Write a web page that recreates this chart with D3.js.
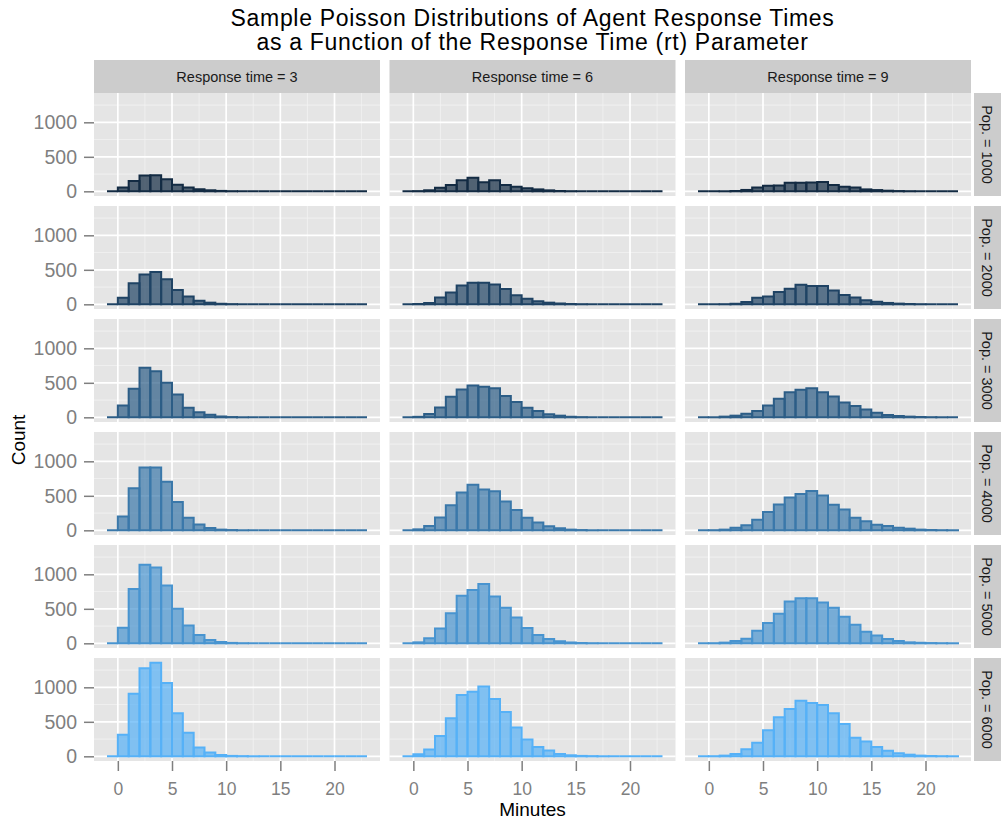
<!DOCTYPE html>
<html>
<head>
<meta charset="utf-8">
<script src="https://cdn.jsdelivr.net/npm/d3@7"></script>
<style>
  body { margin: 0; background: #fff; }
  svg { display: block; font-family: "Liberation Sans", Arial, Helvetica, sans-serif; }
</style>
</head>
<body>
<div id="display"></div>
<script>
// bins are 1 minute wide, listed by their left edge
const binStarts = [-1, 0, 1, 2, 3, 4, 5, 6, 7, 8, 9, 10, 11, 12, 13, 14, 15, 16, 17, 18, 19, 20, 21, 22];
const responseTimes = [3, 6, 9];
const populations = [1000, 2000, 3000, 4000, 5000, 6000];
const xTicks = [0, 5, 10, 15, 20];
const yTicks = [0, 500, 1000];

// counts per bin, one row per population (1000..6000)
const countsRt3 = [
  [0, 55, 150, 228, 232, 175, 95, 55, 30, 15, 6, 2, 0, 0, 0, 0, 0, 0, 0, 0, 0, 0, 0, 0],
  [0, 96, 305, 432, 470, 365, 206, 115, 53, 24, 8, 3, 0, 0, 0, 0, 0, 0, 0, 0, 0, 0, 0, 0],
  [0, 173, 413, 720, 668, 500, 332, 140, 72, 38, 12, 4, 1, 0, 0, 0, 0, 0, 0, 0, 0, 0, 0, 0],
  [0, 200, 610, 910, 910, 705, 410, 181, 86, 33, 10, 4, 1, 0, 0, 0, 0, 0, 0, 0, 0, 0, 0, 0],
  [0, 224, 786, 1138, 1100, 838, 500, 257, 119, 48, 19, 6, 2, 0, 0, 0, 0, 0, 0, 0, 0, 0, 0, 0],
  [0, 314, 905, 1276, 1357, 1062, 624, 343, 129, 57, 19, 6, 3, 1, 0, 0, 0, 0, 0, 0, 0, 0, 0, 0]
];
const countsRt6 = [
  [0, 3, 15, 50, 90, 160, 195, 130, 160, 90, 67, 43, 28, 14, 5, 2, 0, 0, 0, 0, 0, 0, 0, 0],
  [0, 5, 19, 100, 173, 274, 312, 312, 288, 221, 130, 82, 43, 24, 12, 5, 2, 0, 0, 0, 0, 0, 0, 0],
  [0, 7, 48, 144, 298, 404, 462, 442, 423, 308, 221, 139, 91, 43, 24, 8, 3, 0, 0, 0, 0, 0, 0, 0],
  [0, 14, 62, 187, 365, 547, 662, 590, 566, 418, 293, 182, 115, 58, 29, 10, 4, 1, 0, 0, 0, 0, 0, 0],
  [0, 14, 72, 216, 437, 691, 773, 859, 677, 514, 374, 221, 120, 62, 29, 12, 5, 2, 0, 0, 0, 0, 0, 0],
  [0, 29, 100, 293, 552, 888, 936, 1013, 830, 643, 418, 245, 134, 86, 34, 15, 6, 3, 1, 0, 0, 0, 0, 0]
];
const countsRt9 = [
  [0, 0, 1, 5, 20, 55, 82, 83, 125, 125, 126, 135, 92, 66, 55, 28, 18, 9, 4, 2, 0, 0, 0, 0],
  [0, 0, 2, 8, 35, 95, 115, 180, 225, 282, 265, 265, 200, 135, 100, 60, 38, 20, 10, 5, 2, 0, 0, 0],
  [0, 1, 10, 24, 53, 91, 173, 269, 365, 398, 422, 365, 302, 216, 163, 115, 67, 34, 19, 10, 5, 2, 1, 0],
  [0, 2, 10, 38, 72, 154, 264, 374, 475, 528, 571, 504, 370, 302, 182, 130, 82, 62, 38, 24, 10, 5, 2, 1],
  [0, 2, 10, 34, 67, 182, 293, 427, 605, 653, 653, 590, 514, 384, 269, 168, 115, 62, 34, 14, 8, 4, 2, 1],
  [0, 2, 10, 34, 101, 197, 379, 566, 686, 806, 773, 744, 624, 470, 269, 216, 134, 82, 43, 24, 10, 5, 2, 1]
];
const countsByRt = [countsRt3, countsRt6, countsRt9];

const width = 1002, height = 824;
const panelLeft = 94, panelTop = 93, panelW = 286, panelH = 103;
const colGap = 9.5, rowGap = 10;
const stripH = 33, stripW = 27;

const svg = d3.select("#display").append("svg")
    .attr("width", width)
    .attr("height", height);

const x = d3.scaleLinear()
    .domain([d3.min(binStarts) - 1.2, d3.max(binStarts) + 1 + 1.2])
    .range([0, panelW]);

let yMax = d3.max(countsByRt, rt => d3.max(rt, r => d3.max(r)));
const y = d3.scaleLinear()
    .domain([-yMax * 0.05, yMax * 1.05])
    .range([panelH, 0]);

// colour ramp like ggplot's default continuous scale
const colour = d3.scaleLinear()
    .domain([d3.min(populations), d3.max(populations)])
    .range(["#132B43", "#56B1F7"])
    .interpolate(d3.interpolateLab);

const xMinor = [2.5, 7.5, 12.5, 17.5, 22.5];
const yMinor = [250, 750, 1250];

function barPath(d) {
  let x0 = x(d.start), x1 = x(d.start + 1), y0 = y(0), y1 = y(d.count);
  return `M${x0},${y0}H${x1}V${y1}H${x0}Z`;
}

populations.forEach((pop, r) => {
  responseTimes.forEach((rt, c) => {
    let g = svg.append("g")
        .attr("transform", `translate(${panelLeft + c * (panelW + colGap)},${panelTop + r * (panelH + rowGap)})`);

    g.append("rect")
        .attr("width", panelW)
        .attr("height", panelH)
        .attr("fill", "#e5e5e5");

    g.selectAll(".vminor").data(xMinor).join("line")
        .attr("x1", d => x(d)).attr("x2", d => x(d))
        .attr("y1", 0).attr("y2", panelH)
        .attr("stroke", "#f2f2f2").attr("stroke-width", 0.8);
    g.selectAll(".hminor").data(yMinor).join("line")
        .attr("x1", 0).attr("x2", panelW)
        .attr("y1", d => y(d)).attr("y2", d => y(d))
        .attr("stroke", "#f2f2f2").attr("stroke-width", 0.8);
    g.append("g").selectAll("line").data(xTicks).join("line")
        .attr("x1", d => x(d)).attr("x2", d => x(d))
        .attr("y1", 0).attr("y2", panelH)
        .attr("stroke", "#fff").attr("stroke-width", 1.7);
    g.append("g").selectAll("line").data(yTicks).join("line")
        .attr("x1", 0).attr("x2", panelW)
        .attr("y1", d => y(d)).attr("y2", d => y(d))
        .attr("stroke", "#fff").attr("stroke-width", 1.7);

    let counts = countsByRt[c][r];
    let bars = binStarts.map((s, i) => ({start: s, count: counts[i]}));
    let col = colour(pop);

    g.append("g").selectAll("path").data(bars).join("path")
        .attr("d", barPath)
        .attr("fill", col)
        .attr("fill-opacity", 0.7)
        .attr("stroke", col)
        .attr("stroke-width", 2)
        .attr("stroke-linejoin", "miter");

    if (c === 0) {
      g.append("g")
          .call(d3.axisLeft(y).tickValues(yTicks).tickSize(10).tickPadding(7).tickFormat(d3.format("d")))
          .call(a => a.select(".domain").remove())
          .call(a => a.selectAll("line").attr("stroke", "#7f7f7f").attr("stroke-width", 1.5))
          .call(a => a.selectAll("text").attr("fill", "#7f7f7f"))
          .attr("font-size", 19.5)
          .attr("font-family", null);
    }
    if (r === populations.length - 1) {
      g.append("g")
          .attr("transform", `translate(0,${panelH})`)
          .call(d3.axisBottom(x).tickValues(xTicks).tickSize(10).tickPadding(12))
          .call(a => a.select(".domain").remove())
          .call(a => a.selectAll("line").attr("stroke", "#7f7f7f").attr("stroke-width", 1.5))
          .call(a => a.selectAll("text").attr("fill", "#7f7f7f"))
          .attr("font-size", 17.5)
          .attr("font-family", null);
    }
  });

  // row strip on the right
  let sy = panelTop + r * (panelH + rowGap);
  let sx = panelLeft + responseTimes.length * (panelW + colGap) - colGap + 3;
  svg.append("rect")
      .attr("x", sx).attr("y", sy)
      .attr("width", stripW).attr("height", panelH)
      .attr("fill", "#cccccc");
  svg.append("text")
      .attr("transform", `translate(${sx + stripW / 2},${sy + panelH / 2}) rotate(90)`)
      .attr("text-anchor", "middle")
      .attr("dy", "0.35em")
      .attr("font-size", 14.5)
      .attr("fill", "#1a1a1a")
      .text("Pop. = " + pop);
});

// column strips on top
responseTimes.forEach((rt, c) => {
  let sx = panelLeft + c * (panelW + colGap);
  svg.append("rect")
      .attr("x", sx).attr("y", panelTop - stripH)
      .attr("width", panelW).attr("height", stripH)
      .attr("fill", "#cccccc");
  svg.append("text")
      .attr("x", sx + panelW / 2)
      .attr("y", panelTop - stripH / 2)
      .attr("dy", "0.35em")
      .attr("text-anchor", "middle")
      .attr("font-size", 14.5)
      .attr("fill", "#1a1a1a")
      .text("Response time = " + rt);
});

const plotMid = panelLeft + (responseTimes.length * (panelW + colGap) - colGap) / 2;

svg.append("text")
    .attr("x", plotMid).attr("y", 26)
    .attr("text-anchor", "middle")
    .attr("font-size", 23)
    .attr("letter-spacing", 0.7)
    .text("Sample Poisson Distributions of Agent Response Times");
svg.append("text")
    .attr("x", plotMid).attr("y", 50)
    .attr("text-anchor", "middle")
    .attr("font-size", 23)
    .attr("letter-spacing", 0.7)
    .text("as a Function of the Response Time (rt) Parameter");

svg.append("text")
    .attr("x", plotMid).attr("y", 816)
    .attr("text-anchor", "middle")
    .attr("font-size", 19)
    .text("Minutes");

svg.append("text")
    .attr("transform", "translate(18,440) rotate(-90)")
    .attr("text-anchor", "middle")
    .attr("dy", "0.35em")
    .attr("font-size", 19)
    .text("Count");
</script>
</body>
</html>
